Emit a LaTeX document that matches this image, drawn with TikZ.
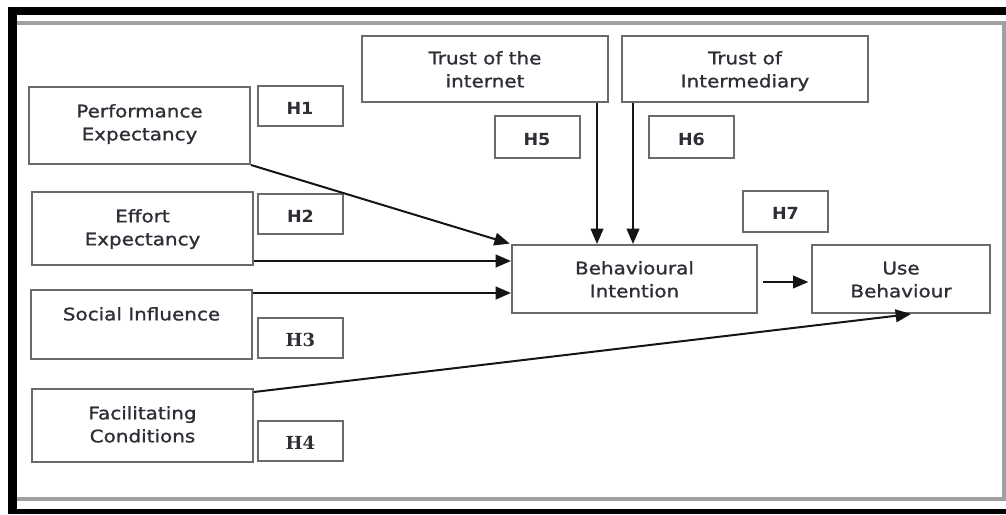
\documentclass[tikz,border=0pt]{standalone}
\usepackage{fontspec}
\setmainfont[FakeStretch=1.15]{DejaVu Sans}
\newfontfamily\mfont[FakeStretch=1.15,FakeBold=1.2]{DejaVu Sans}
\newfontfamily\hfont[FakeStretch=1.05]{DejaVu Sans Bold}
\newfontfamily\hserif{DejaVu Serif Bold}
\usetikzlibrary{arrows.meta,calc,fit}
\definecolor{txt}{HTML}{2E2E36}
\definecolor{bord}{HTML}{6A6A6A}
\definecolor{frm}{HTML}{A0A0A0}
\definecolor{arrc}{HTML}{151515}
\tikzset{
  box/.style={draw=bord, line width=1.5pt, inner sep=0pt},
  lbl/.style={text=txt, align=center, inner sep=0pt, anchor=north,
    font=\mfont\fontsize{13}{17.25}\selectfont},
  hyp/.style={draw=bord, line width=1.5pt, minimum width=63.75pt,
    minimum height=30pt, inner sep=0pt, text=txt,
    font=\hfont\fontsize{12.5}{14}\selectfont, text height=12pt, text depth=0pt},
  hyps/.style={hyp, font=\hserif\fontsize{13.5}{15}\selectfont},
  arr/.style={draw=arrc, line width=1.5pt,
    -{Triangle[length=11.5pt,width=9.5pt]}},
}
\begin{document}
\begin{tikzpicture}[x=0.75pt,y=-0.75pt]
\useasboundingbox (0,0) rectangle (1006,514);
% frame
\fill[black] (8,7) rectangle (1006,15);
\fill[black] (8,7) rectangle (17,514);
\fill[black] (8,509) rectangle (1006,514);
\draw[frm, line width=2.5pt] (17,23) -- (1004,23) -- (1004,499) -- (17,499);

% main boxes
\node[box, fit={(29,87) (250,164)}] (pe) {};
\node[box, fit={(32,192) (253,265)}] (ee) {};
\node[box, fit={(31,290) (252,359)}] (si) {};
\node[box, fit={(32,389) (253,462)}] (fc) {};
\node[box, fit={(362,36) (608,102)}] (ti) {};
\node[box, fit={(622,36) (868,102)}] (tm) {};
\node[box, fit={(512,245) (757,313)}] (bi) {};
\node[box, fit={(812,245) (990,313)}] (ub) {};

\node[lbl] (pe-t) at ($(pe.north)+(0,15)$) {\strut Performance\\Expectancy};
\node[lbl] (ee-t) at ($(ee.north)+(0,15)$) {\strut Effort\\Expectancy};
\node[lbl] (si-t) at ($(si.north)+(0,15)$) {\strut Social Influence};
\node[lbl] (fc-t) at ($(fc.north)+(0,15)$) {\strut Facilitating\\Conditions};
\node[lbl] (ti-t) at ($(ti.north)+(0,13)$) {\strut Trust of the\\internet};
\node[lbl] (tm-t) at ($(tm.north)+(0,13)$) {\strut Trust of\\Intermediary};
\node[lbl] (bi-t) at ($(bi.north)+(0,14)$) {\strut Behavioural\\Intention};
\node[lbl] (ub-t) at ($(ub.north)+(0,14)$) {\strut Use\\Behaviour};

% hypothesis boxes
\node[hyp] (h1) at (300,106) {H1};
\node[hyp] (h2) at (300.5,214) {H2};
\node[hyps] (h3) at (300.5,338) {H3};
\node[hyps] (h4) at (300.5,441) {H4};
\node[hyp, minimum height=31.5pt] (h5) at (537,137) {H5};
\node[hyp, minimum height=31.5pt] (h6) at (691.5,137) {H6};
\node[hyp, minimum height=31pt] (h7) at (785.5,211.5) {H7};

% connectors
\coordinate (eeo) at ($(ee.south east)+(0,-5)$);
\coordinate (sio) at ($(si.north east)+(0,4)$);
\coordinate (fco) at ($(fc.north east)+(0,4)$);
\coordinate (tio) at ($(ti.south east)+(-12,0)$);
\coordinate (tmo) at ($(tm.south west)+(12,0)$);
\coordinate (bio) at ($(bi.east)+(5,3)$);
\coordinate (ubi) at ($(ub.south)+(10,0)$);

\draw[arr, shorten >=1pt] (pe.south east) -- (bi.north west);
\draw[arr] (eeo) -- (eeo -| bi.west);
\draw[arr] (sio) -- (sio -| bi.west);
\draw[arr] (fco) -- (ubi);
\draw[arr] (tio) -- (tio |- bi.north);
\draw[arr] (tmo) -- (tmo |- bi.north);
\draw[arr, shorten >=2pt] (bio) -- (bio -| ub.west);
\end{tikzpicture}
\end{document}
